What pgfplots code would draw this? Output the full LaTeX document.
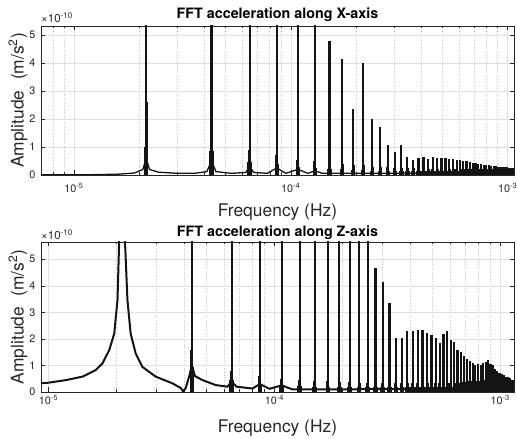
\documentclass[border=0pt]{standalone}
\usepackage{fontspec}
\setmainfont{TeX Gyre Heros}
\usepackage{pgfplots}
\pgfplotsset{compat=1.18}
\usepackage{pgfplotstable}

\definecolor{axc}{HTML}{262626}
\definecolor{gridc}{HTML}{E0E0E0}
\definecolor{minc}{HTML}{C6C6C6}
\definecolor{linec}{HTML}{141414}

% X-axis spectrum: peak frequency, spike height, mid skirt, base skirt (x 1e-10)
\pgfplotstableread[row sep=\\]{
f h m b\\
2.155e-5 9 2.6 1.0\\
4.31e-5 9 1.5 0.85\\
6.465e-5 9 0.9 0.45\\
8.62e-5 9 0.7 0.38\\
1.0775e-4 9 0.55 0.3\\
1.293e-4 9 0.5 0.25\\
1.5085e-4 4.79 0.45 0.22\\
1.724e-4 4.14 0.4 0.2\\
1.9395e-4 2.36 0.35 0.18\\
2.155e-4 4.01 0.35 0.18\\
2.3705e-4 1.99 0.3 0.16\\
2.586e-4 1.73 0.3 0.16\\
2.8015e-4 1.07 0.28 0.15\\
3.017e-4 0.81 0.26 0.15\\
3.2325e-4 1.07 0.26 0.15\\
3.448e-4 0.65 0.25 0.14\\
3.6635e-4 0.55 0.24 0.14\\
3.879e-4 0.6 0.24 0.14\\
4.0945e-4 0.65 0.24 0.14\\
4.31e-4 0.58 0.23 0.14\\
4.5255e-4 0.65 0.23 0.14\\
4.741e-4 0.62 0.23 0.14\\
4.9565e-4 0.6 0.22 0.13\\
5.172e-4 0.62 0.22 0.13\\
5.3875e-4 0.58 0.22 0.13\\
5.603e-4 0.56 0.22 0.13\\
5.8185e-4 0.55 0.22 0.13\\
6.034e-4 0.52 0.22 0.13\\
6.2495e-4 0.5 0.21 0.13\\
6.465e-4 0.5 0.21 0.13\\
6.6805e-4 0.46 0.21 0.13\\
6.896e-4 0.44 0.21 0.13\\
7.1115e-4 0.42 0.2 0.13\\
7.327e-4 0.4 0.2 0.13\\
7.5425e-4 0.38 0.2 0.13\\
7.758e-4 0.37 0.2 0.13\\
7.9735e-4 0.35 0.2 0.13\\
8.189e-4 0.34 0.2 0.13\\
8.4045e-4 0.33 0.2 0.13\\
8.62e-4 0.32 0.2 0.13\\
8.8355e-4 0.31 0.19 0.13\\
9.051e-4 0.3 0.19 0.13\\
9.2665e-4 0.3 0.19 0.13\\
9.482e-4 0.29 0.19 0.13\\
9.6975e-4 0.28 0.19 0.13\\
9.913e-4 0.27 0.18 0.13\\
1.01285e-3 0.26 0.18 0.13\\
1.0344e-3 0.25 0.18 0.13\\
1.05595e-3 0.24 0.18 0.13\\
}\peaksX

\pgfplotstableread[row sep=\\]{
f y\\
7.05e-6 0.005\\
1.2e-5 0.01\\
1.6e-5 0.03\\
1.9e-5 0.07\\
2.08e-5 0.2\\
2.155e-5 0.6\\
2.23e-5 0.2\\
2.45e-5 0.1\\
3.0e-5 0.06\\
3.6e-5 0.06\\
4.1e-5 0.12\\
4.31e-5 0.5\\
4.52e-5 0.12\\
5.3e-5 0.06\\
6.2e-5 0.09\\
6.465e-5 0.3\\
6.75e-5 0.09\\
7.8e-5 0.06\\
8.62e-5 0.25\\
9.5e-5 0.06\\
1.0775e-4 0.2\\
1.2e-4 0.06\\
1.293e-4 0.15\\
1.4e-4 0.06\\
3e-4 0.06\\
1.07e-3 0.1\\
}\baseX

% Z-axis spectrum
\pgfplotstableread[row sep=\\]{
f h m b\\
4.31e-5 9 1.6 0.95\\
6.465e-5 9 0.8 0.45\\
8.62e-5 9 0.6 0.3\\
1.0775e-4 9 0.5 0.25\\
1.293e-4 9 0.45 0.22\\
1.5085e-4 9 0.4 0.2\\
1.724e-4 9 0.4 0.2\\
1.9395e-4 9 0.38 0.2\\
2.155e-4 9 0.36 0.2\\
2.3705e-4 9 0.35 0.2\\
2.586e-4 9 0.35 0.2\\
2.8015e-4 4.67 0.35 0.2\\
3.017e-4 4.16 0.35 0.2\\
3.2325e-4 3.35 0.35 0.2\\
3.448e-4 2.05 0.35 0.2\\
3.6635e-4 2.03 0.35 0.2\\
3.879e-4 2.28 0.35 0.2\\
4.0945e-4 2.3 0.35 0.2\\
4.31e-4 2.33 0.35 0.2\\
4.5255e-4 2.33 0.35 0.2\\
4.741e-4 2.23 0.35 0.2\\
4.9565e-4 2.14 0.35 0.2\\
5.172e-4 2.03 0.35 0.2\\
5.3875e-4 1.84 0.35 0.2\\
5.603e-4 2.2 0.35 0.2\\
5.8185e-4 2.3 0.35 0.2\\
6.034e-4 1.96 0.35 0.2\\
6.2495e-4 1.9 0.35 0.2\\
6.465e-4 1.58 0.35 0.22\\
6.6805e-4 1.5 0.35 0.22\\
6.896e-4 1.36 0.38 0.22\\
7.1115e-4 1.25 0.38 0.22\\
7.327e-4 1.18 0.4 0.24\\
7.5425e-4 1.1 0.4 0.24\\
7.758e-4 1.01 0.4 0.24\\
7.9735e-4 1.06 0.42 0.25\\
8.189e-4 1.03 0.42 0.25\\
8.4045e-4 1.1 0.45 0.25\\
8.62e-4 1.14 0.45 0.26\\
8.8355e-4 1.2 0.45 0.26\\
9.051e-4 1.05 0.45 0.26\\
9.2665e-4 1.0 0.45 0.26\\
9.482e-4 0.85 0.45 0.26\\
9.6975e-4 0.8 0.45 0.26\\
9.913e-4 0.7 0.42 0.25\\
1.01285e-3 0.68 0.42 0.25\\
1.0344e-3 0.63 0.4 0.25\\
1.05595e-3 0.58 0.4 0.25\\
1.0775e-3 0.55 0.38 0.24\\
1.099e-3 0.52 0.36 0.24\\
1.12055e-3 0.47 0.35 0.22\\
1.1421e-3 0.44 0.33 0.22\\
}\peaksZ

\pgfplotstableread[row sep=\\]{
f y\\
9.26e-6 0.33\\
1.0e-5 0.35\\
1.197e-5 0.45\\
1.415e-5 0.58\\
1.62e-5 0.83\\
1.734e-5 1.08\\
1.857e-5 1.58\\
1.954e-5 2.2\\
2.02e-5 3.47\\
2.055e-5 5.7\\
2.12e-5 14\\
2.18e-5 5.7\\
2.235e-5 3.47\\
2.31e-5 2.2\\
2.43e-5 1.46\\
2.6e-5 0.95\\
2.98e-5 0.58\\
3.53e-5 0.33\\
3.85e-5 0.15\\
3.95e-5 0.02\\
4.05e-5 0.15\\
4.2e-5 0.6\\
4.31e-5 1.0\\
4.45e-5 0.6\\
4.8e-5 0.45\\
5.5e-5 0.26\\
6.2e-5 0.2\\
6.465e-5 0.4\\
6.8e-5 0.2\\
8.0e-5 0.13\\
8.62e-5 0.3\\
9.5e-5 0.12\\
1.0775e-4 0.25\\
1.2e-4 0.1\\
2e-4 0.1\\
5e-4 0.12\\
1.15e-3 0.2\\
}\baseZ

\pgfplotsset{
  myax/.style={
    scale only axis, width=473pt,
    axis line style={axc, line width=0.5pt},
    every tick/.style={axc, line width=0.5pt},
    tick align=inside,
    major tick length=4.5pt, minor tick length=2.5pt,
    xmajorgrids, xminorgrids, ymajorgrids,
    major grid style={gridc, solid, line width=0.5pt},
    minor grid style={minc, dotted, line width=0.6pt},
    ymin=0, ytick={0,1,2,3,4,5},
    xtick={1e-5,1e-4,1e-3},
    xticklabels={10\textsuperscript{-5},10\textsuperscript{-4},10\textsuperscript{-3}},
    ticklabel style={font=\fontsize{10.8}{12}\selectfont, text=axc},
    /pgf/number format/assume math mode=true,
    yticklabel style={xshift=-2pt},
  },
}

\begin{document}
\begin{tikzpicture}
\useasboundingbox (0,0) rectangle (517pt,439pt);

% ---- top: X-axis ----
\begin{axis}[xmode=log, myax, at={(41pt,264pt)}, anchor=south west, height=149pt,
  xmin=7.05e-6, xmax=1.07e-3, ymax=5.32,
  minor xtick={8e-6,9e-6,2e-5,3e-5,4e-5,5e-5,6e-5,7e-5,8e-5,9e-5,2e-4,3e-4,4e-4,5e-4,6e-4,7e-4,8e-4,9e-4},
  xticklabel style={yshift=-4.5pt}]
\addplot[linec, line width=1.3pt] table[x=f, y=y] {\baseX};
\addplot[ycomb, linec, line width=4.5pt] table[x=f, y=b] {\peaksX};
\addplot[ycomb, linec, line width=3pt] table[x=f, y=m] {\peaksX};
\addplot[ycomb, linec, line width=2.2pt] table[x=f, y=h] {\peaksX};
\end{axis}

% ---- bottom: Z-axis ----
\begin{axis}[xmode=log, myax, at={(41pt,47pt)}, anchor=south west, height=150pt,
  xmin=9.26e-6, xmax=1.15e-3, ymax=5.65,
  minor xtick={2e-5,3e-5,4e-5,5e-5,6e-5,7e-5,8e-5,9e-5,2e-4,3e-4,4e-4,5e-4,6e-4,7e-4,8e-4,9e-4},
  xticklabel style={yshift=0.5pt}]
\addplot[linec, line width=2pt] table[x=f, y=y] {\baseZ};
\addplot[ycomb, linec, line width=4.5pt] table[x=f, y=b] {\peaksZ};
\addplot[ycomb, linec, line width=3pt] table[x=f, y=m] {\peaksZ};
\addplot[ycomb, linec, line width=2.2pt] table[x=f, y=h] {\peaksZ};
\end{axis}

% ---- labels ----
\node[anchor=base, font=\fontsize{14.3}{16}\selectfont\bfseries, text=black] at (277.5pt,420pt) {FFT acceleration along X-axis};
\node[anchor=base, font=\fontsize{14.3}{16}\selectfont\bfseries, text=black] at (277.5pt,202pt) {FFT acceleration along Z-axis};
\node[anchor=base, font=\fontsize{17.4}{20}\selectfont, text=axc] at (277.5pt,222.3pt) {Frequency (Hz)};
\node[anchor=base, font=\fontsize{17.4}{20}\selectfont, text=axc] at (277.5pt,6pt) {Frequency (Hz)};
\node[rotate=90, anchor=base, font=\fontsize{17.4}{20}\selectfont, text=axc] at (23.5pt,338.5pt) {Amplitude\hspace{0.6em}(m/s\textsuperscript{2})};
\node[rotate=90, anchor=base, font=\fontsize{17.4}{20}\selectfont, text=axc] at (23.5pt,122pt) {Amplitude\hspace{0.6em}(m/s\textsuperscript{2})};
\node[anchor=base west, inner sep=0pt, font=\fontsize{11.5}{13}\selectfont, text=axc] at (41pt,416.3pt) {×10\textsuperscript{-10}};
\node[anchor=base west, inner sep=0pt, font=\fontsize{11.5}{13}\selectfont, text=axc] at (41pt,199pt) {×10\textsuperscript{-10}};
\end{tikzpicture}
\end{document}
